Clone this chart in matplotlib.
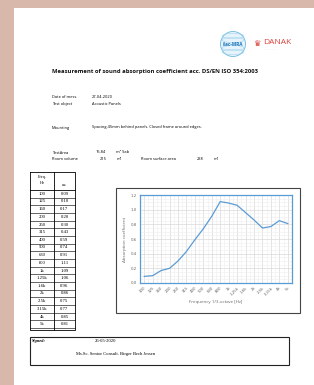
import matplotlib
matplotlib.use("Agg")
import matplotlib.pyplot as plt
from matplotlib.patches import Rectangle, Circle, Ellipse
from matplotlib.ticker import MultipleLocator

# data
freqs = ["100", "125", "160", "200", "250", "315", "400", "500", "630", "800",
         "1k", "1.25k", "1.6k", "2k", "2.5k", "3.15k", "4k", "5k"]
alpha = [0.09, 0.10, 0.17, 0.20, 0.30, 0.43, 0.59, 0.74, 0.91, 1.11,
         1.09, 1.06, 0.96, 0.86, 0.75, 0.77, 0.85, 0.81]
yticks = [0.0, 0.2, 0.4, 0.6, 0.8, 1.0, 1.2]

W, H = 314, 385
fig = plt.figure(figsize=(W / 100, H / 100), dpi=100)
fig.patch.set_facecolor("#d8b8aa")

# page in pixel coords
pg = fig.add_axes([0, 0, 1, 1])
pg.set_xlim(0, W)
pg.set_ylim(H, 0)
pg.axis("off")
pg.add_patch(Rectangle((14, 8), W - 14, H - 8, facecolor="white", edgecolor="none"))

sans = "Open Sans"
fs = 2.9

# logos
pg.add_patch(Circle((233, 44), 12.5, facecolor="#e6f3fb", edgecolor="#6cb8e0", lw=0.6))
for dy in (-8, -4, 4, 8):
    pg.add_patch(Ellipse((233, 44 + dy), 22, 5, facecolor="none", edgecolor="#8ccbea", lw=0.3))
pg.text(233, 44, "ilac-MRA", fontsize=3.4, color="#1b75bb", ha="center", va="center",
        family=sans, fontweight="bold")
pg.text(257, 43, "\u265b", fontsize=6, color="#d9413a", ha="center", va="center", family="DejaVu Sans")
pg.text(263, 43, "DANAK", fontsize=6, color="#d9413a", ha="left", va="center", family=sans)
pg.text(264, 50, "........ ...... ...", fontsize=1.5, color="#999999", ha="left", va="center")

# title and info
pg.text(52, 72, "Measurement of sound absorption coefficient acc. DS/EN ISO 354:2003",
        fontsize=4.2, fontweight="bold", family=sans, va="center", color="#111111")
pg.text(52, 97, "Date of mess.", fontsize=fs, family=sans, va="center")
pg.text(92, 97, "27-04-2020", fontsize=fs, family=sans, va="center")
pg.text(52, 104, "Test object", fontsize=fs, family=sans, va="center")
pg.text(92, 104, "Acoustic Panels", fontsize=fs, family=sans, va="center")
pg.text(52, 128, "Mounting", fontsize=fs, family=sans, va="center")
pg.text(92, 127, "Spacing 45mm behind panels. Closed frame around edges.", fontsize=fs,
        family=sans, va="center")
pg.text(52, 153, "TestArea", fontsize=fs, family=sans, va="center")
pg.text(96, 152, "15.84", fontsize=fs, family=sans, va="center")
pg.text(116, 152, "m\u00b2 Sab", fontsize=fs, family=sans, va="center")
pg.text(52, 159, "Room volume", fontsize=fs, family=sans, va="center")
pg.text(100, 159, "215", fontsize=fs, family=sans, va="center")
pg.text(117, 159, "m\u00b3", fontsize=fs, family=sans, va="center")
pg.text(141, 159, "Room surface area", fontsize=fs, family=sans, va="center")
pg.text(197, 159, "238", fontsize=fs, family=sans, va="center")
pg.text(214, 159, "m\u00b2", fontsize=fs, family=sans, va="center")

# table
serif = "Liberation Serif"
tx0, tx1, tx2 = 30, 54, 75
ty0, ty1, ty2 = 172, 190, 328
lw = 0.6
pg.plot([tx0, tx2, tx2, tx0, tx0], [ty0, ty0, ty2 + 2, ty2 + 2, ty0], color="black", lw=lw)
pg.plot([tx1, tx1], [ty0, ty2 + 2], color="black", lw=lw)
pg.plot([tx0, tx2], [ty1, ty1], color="black", lw=lw)
pg.text((tx0 + tx1) / 2, 177, "Freq.", fontsize=3.1, family=serif, ha="center", va="center")
pg.text((tx0 + tx1) / 2, 183, "Hz", fontsize=3.1, family=serif, ha="center", va="center")
pg.text((tx1 + tx2) / 2, 186, r"$\alpha_s$", fontsize=3.1, ha="center", va="center")
rh = (ty2 - ty1) / len(freqs)
for i, (f, a) in enumerate(zip(freqs, alpha)):
    yc = ty1 + rh * (i + 0.5)
    pg.plot([tx0, tx2], [ty1 + rh * (i + 1)] * 2, color="black", lw=lw * 0.7)
    pg.text((tx0 + tx1) / 2, yc, f, fontsize=3.4, family=serif, ha="center", va="center")
    pg.text((tx1 + tx2) / 2, yc, "%.2f" % a, fontsize=3.4, family=serif, ha="center", va="center")

# chart frame
pg.add_patch(Rectangle((116, 188), 184, 125, facecolor="white", edgecolor="#444444", lw=0.8))

# signature box
pg.add_patch(Rectangle((30, 337), 259, 28, facecolor="none", edgecolor="#222222", lw=0.8))
pg.text(32, 341, "Signed:", fontsize=3.2, family=serif, fontstyle="italic", fontweight="bold", va="center")
pg.text(95, 341, "26-05-2020", fontsize=3.3, family=serif, va="center")
pg.text(76, 354, "Ms.Sc. Senior Consult. Birger Bech Jessen", fontsize=3.3, family=serif, va="center")

# chart
ax = fig.add_axes([140 / W, 1 - 283 / H, (292 - 140) / W, (283 - 195) / H])
blue = "#5b9bd5"
x = list(range(len(freqs)))
ax.plot(x, alpha, color=blue, lw=0.9)
ax.set_xlim(-0.5, len(freqs) - 0.5)
ax.set_ylim(0, 1.2)
ax.set_yticks(yticks)
ax.set_yticklabels(["%.1f" % v for v in yticks])
ax.set_xticks(x)
ax.set_xticklabels(freqs, rotation=45, ha="right", rotation_mode="anchor")
ax.yaxis.set_minor_locator(MultipleLocator(0.05))
ax.xaxis.set_minor_locator(MultipleLocator(0.5))
ax.grid(which="major", color="#d9d9d9", lw=0.5)
ax.grid(which="minor", color="#eeeeee", lw=0.4)
ax.set_axisbelow(True)
ax.tick_params(which="both", length=0, labelsize=2.8, labelcolor="#666666", pad=2)
for s in ax.spines.values():
    s.set_color(blue)
    s.set_linewidth(0.9)
ax.set_xlabel("Frequency 1/3-octave [Hz]", fontsize=3.2, color="#666666", family=sans, labelpad=3)
ax.set_ylabel("Absorption coefficient", fontsize=3.2, color="#666666", family=sans, labelpad=3)

fig.savefig("out.png", dpi=100)
